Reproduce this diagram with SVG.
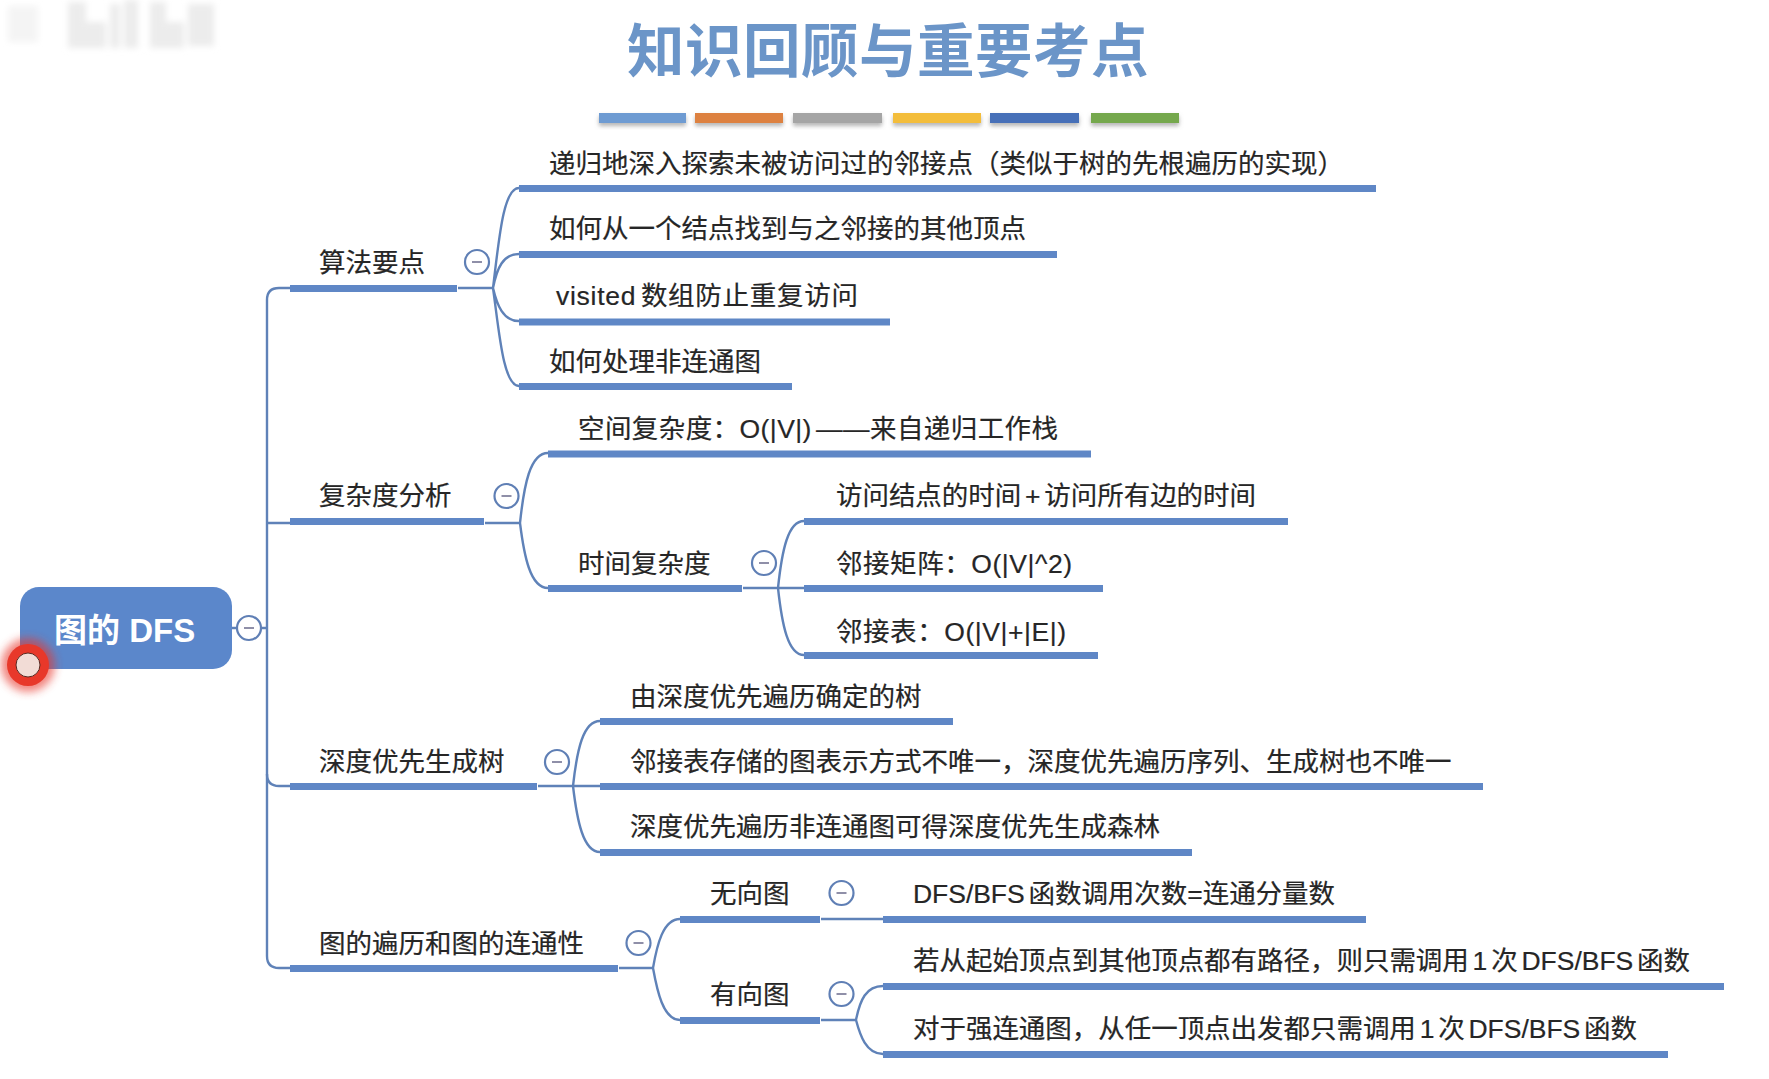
<svg xmlns="http://www.w3.org/2000/svg" width="1769" height="1079" viewBox="0 0 1769 1079">
<style>
text{font-family:"Liberation Sans","Noto Sans CJK SC",sans-serif;font-size:26.500px;fill:#262626;stroke:#262626;stroke-width:.2}
.title{font-size:57.500px;font-weight:700;fill:#6b95c8;stroke:none;letter-spacing:.5px;font-family:"Noto Sans CJK SC",sans-serif}
.root{font-size:33px;font-weight:700;fill:#fff;stroke:none}
.w{word-spacing:-3.500px}
.bar{fill:#5f87c6}
.c{fill:none;stroke:#5f82b8;stroke-width:2.400}
.tg circle{fill:#fff;stroke:#5f7fb5;stroke-width:2.200}
.tg path{stroke:#8f8fa8;stroke-width:2}
.s{filter:url(#sh)}
</style>
<defs>
<filter id="sh" x="-5%" y="-50%" width="110%" height="220%"><feDropShadow dx="0" dy="3" stdDeviation="2" flood-color="#777" flood-opacity=".55"/></filter>
<filter id="b3" x="-30%" y="-30%" width="160%" height="160%"><feGaussianBlur stdDeviation="3"/></filter>
<filter id="b5" x="-50%" y="-50%" width="200%" height="200%"><feGaussianBlur stdDeviation="4"/></filter>
<g id="minus" class="tg"><circle r="12"/><path d="M-5 0H5"/></g>
</defs>
<rect width="1769" height="1079" fill="#fff"/>
<g id="watermark" fill="#ececec" filter="url(#b3)">
<rect x="8" y="6" width="30" height="36" fill="#f4f4f4"/>
<rect x="68" y="2" width="18" height="46"/><rect x="84" y="22" width="22" height="26"/><rect x="110" y="4" width="10" height="44"/><rect x="124" y="0" width="14" height="48"/><rect x="150" y="2" width="16" height="46"/><rect x="164" y="22" width="20" height="26"/><rect x="188" y="4" width="26" height="42"/>
</g>
<g id="title">
<text class="title" x="888" y="72" text-anchor="middle">知识回顾与重要考点</text>
<rect class="s" x="599" y="113" width="87" height="10" fill="#6e9bd2"/>
<rect class="s" x="695" y="113" width="88" height="10" fill="#dd813f"/>
<rect class="s" x="793" y="113" width="89" height="10" fill="#a5a5a5"/>
<rect class="s" x="893" y="113" width="88" height="10" fill="#f3bd3a"/>
<rect class="s" x="990" y="113" width="89" height="10" fill="#4670b8"/>
<rect class="s" x="1091" y="113" width="88" height="10" fill="#74a84e"/>
</g>
<g id="connectors">
<path class="c" d="M232 628H267"/>
<path class="c" d="M290 288H279Q267 288 267 300V956Q267 968 279 968H290"/>
<path class="c" d="M267 523H290M267 774Q267 786 279 786H290"/>
<path class="c" d="M458 288H493M493 288C499 240 503 188 519 188M493 288C497 268 503 254 519 254M493 288C497 305 503 321 519 321M493 288C499 330 503 386 519 386"/>
<path class="c" d="M485 523H520M520 523C524 485 530 453 548 453M520 523C524 555 530 588 548 588"/>
<path class="c" d="M743 588H778M778 588C782 550 788 521 804 521M778 588H804M778 588C782 625 788 655 804 655"/>
<path class="c" d="M538 786H573M573 786C577 750 583 721 600 721M573 786H600M573 786C577 820 583 852 600 852"/>
<path class="c" d="M619 968H653M653 968C657 945 663 919 680 919M653 968C657 990 663 1020 680 1020"/>
<path class="c" d="M821 919H883"/>
<path class="c" d="M821 1020H856M856 1020C860 1000 866 986 883 986M856 1020C860 1035 866 1054 883 1054"/>
</g>
<g id="root"><rect x="20" y="587" width="212" height="82" rx="19" fill="#5b87cb"/><text class="root" x="54" y="642">图的 DFS</text></g>
<use href="#minus" x="249" y="628"/>
<g id="n1"><text x="319" y="272">算法要点</text><rect class="bar" x="290" y="285" width="167" height="7"/><use href="#minus" x="477" y="262"/></g>
<g id="n1a"><text x="549" y="173">递归地深入探索未被访问过的邻接点（类似于树的先根遍历的实现）</text><rect class="bar" x="519" y="185" width="857" height="7"/></g>
<g id="n1b"><text x="549" y="238">如何从一个结点找到与之邻接的其他顶点</text><rect class="bar" x="519" y="251" width="538" height="7"/></g>
<g id="n1c"><text class="w" x="556" y="305" textLength="302" lengthAdjust="spacing">visited 数组防止重复访问</text><rect class="bar" x="519" y="318.500" width="371" height="7"/></g>
<g id="n1d"><text x="549" y="371">如何处理非连通图</text><rect class="bar" x="519" y="383" width="273" height="7"/></g>
<g id="n2"><text x="319" y="505">复杂度分析</text><rect class="bar" x="290" y="518" width="194" height="7"/><use href="#minus" x="506.500" y="496"/></g>
<g id="n2a"><text class="w" x="578" y="438" textLength="480" lengthAdjust="spacing">空间复杂度：O(|V|) ——来自递归工作栈</text><rect class="bar" x="548" y="450.500" width="543" height="7"/></g>
<g id="n2b"><text x="578" y="573">时间复杂度</text><rect class="bar" x="548" y="585" width="194" height="7"/><use href="#minus" x="764" y="563"/></g>
<g id="n2b1"><text class="w" x="836" y="505" textLength="420" lengthAdjust="spacing">访问结点的时间 + 访问所有边的时间</text><rect class="bar" x="804" y="518" width="484" height="7"/></g>
<g id="n2b2"><text x="836" y="573" textLength="236" lengthAdjust="spacing">邻接矩阵：O(|V|^2)</text><rect class="bar" x="804" y="585" width="299" height="7"/></g>
<g id="n2b3"><text x="836" y="641" textLength="230" lengthAdjust="spacing">邻接表：O(|V|+|E|)</text><rect class="bar" x="804" y="652" width="294" height="7"/></g>
<g id="n3"><text x="319" y="771">深度优先生成树</text><rect class="bar" x="290" y="783" width="247" height="7"/><use href="#minus" x="557" y="762"/></g>
<g id="n3a"><text x="630" y="706">由深度优先遍历确定的树</text><rect class="bar" x="600" y="718" width="353" height="7"/></g>
<g id="n3b"><text x="630" y="771">邻接表存储的图表示方式不唯一，深度优先遍历序列、生成树也不唯一</text><rect class="bar" x="600" y="783" width="883" height="7"/></g>
<g id="n3c"><text x="630" y="836">深度优先遍历非连通图可得深度优先生成森林</text><rect class="bar" x="600" y="849" width="592" height="7"/></g>
<g id="n4"><text x="319" y="953">图的遍历和图的连通性</text><rect class="bar" x="290" y="965" width="328" height="7"/><use href="#minus" x="638.500" y="943"/></g>
<g id="n4a"><text x="710" y="903">无向图</text><rect class="bar" x="680" y="916" width="140" height="7"/><use href="#minus" x="841.500" y="893"/></g>
<g id="n4a1"><text class="w" x="913" y="903" textLength="422" lengthAdjust="spacing">DFS/BFS 函数调用次数=连通分量数</text><rect class="bar" x="883" y="916" width="483" height="7"/></g>
<g id="n4b"><text x="710" y="1004">有向图</text><rect class="bar" x="680" y="1017" width="140" height="7"/><use href="#minus" x="841.500" y="994"/></g>
<g id="n4b1"><text class="w" x="913" y="970" textLength="777" lengthAdjust="spacing">若从起始顶点到其他顶点都有路径，则只需调用 1 次 DFS/BFS 函数</text><rect class="bar" x="883" y="983" width="841" height="7"/></g>
<g id="n4b2"><text class="w" x="913" y="1038" textLength="724" lengthAdjust="spacing">对于强连通图，从任一顶点出发都只需调用 1 次 DFS/BFS 函数</text><rect class="bar" x="883" y="1051" width="785" height="7"/></g>
<g id="pointer"><circle cx="28" cy="665" r="27" fill="#e8352a" opacity=".6" filter="url(#b5)"/><circle cx="28" cy="665" r="21" fill="#e8382a"/><circle cx="28" cy="665" r="12" fill="#f2dcd6" stroke="#5a2a22" stroke-width="1"/></g>
</svg>
